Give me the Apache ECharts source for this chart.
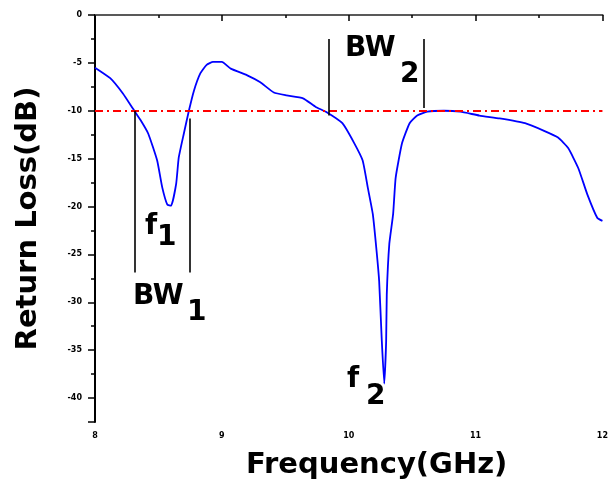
<!DOCTYPE html>
<html>
<head>
<meta charset="utf-8">
<script src="https://cdn.jsdelivr.net/npm/echarts@6/dist/echarts.min.js"></script>
<style>
  html, body { margin: 0; padding: 0; background: #fff; }
  #chart { width: 611px; height: 485px; }
</style>
</head>
<body>
<div id="chart"></div>
<script>
// measured curve: frequency (GHz) / return loss (dB)
const freq = [8.00, 8.12, 8.22, 8.30, 8.36, 8.42, 8.49, 8.53, 8.57, 8.60, 8.64, 8.66, 8.70, 8.74, 8.78,
  8.83, 8.88, 8.93, 9.00, 9.07, 9.20, 9.30, 9.41, 9.51, 9.64, 9.74, 9.82, 9.95, 10.04, 10.11, 10.15,
  10.19, 10.22, 10.24, 10.26, 10.28, 10.295, 10.30, 10.32, 10.35, 10.37, 10.42, 10.48, 10.54, 10.62,
  10.75, 10.88, 11.03, 11.19, 11.39, 11.54, 11.65, 11.73, 11.81, 11.88, 11.96, 12.00];
const returnLoss = [-5.5, -6.6, -8.2, -9.8, -11.0, -12.4, -15.2, -18.0, -19.8, -19.9, -17.6, -14.9, -12.4, -10.0, -7.9,
  -6.1, -5.2, -4.9, -4.9, -5.6, -6.3, -7.0, -8.1, -8.4, -8.7, -9.6, -10.1, -11.3, -13.3, -15.2, -18.0,
  -20.8, -24.7, -27.8, -33.8, -38.5, -34.1, -29.2, -23.9, -20.8, -17.0, -13.4, -11.3, -10.5, -10.1,
  -10.0, -10.1, -10.5, -10.8, -11.3, -12.1, -12.8, -13.9, -16.0, -18.7, -21.2, -21.5];

const refLevel = -10;          // -10 dB reference line
const bw1 = [8.31, 8.75];      // band 1 edges (GHz)
const bw2 = [9.84, 10.59];     // band 2 edges (GHz)
const xMin = 8, xMax = 12;
const yDepth = 42.5;           // axis runs 0 .. -42.5 dB

const FONT = "DejaVu Sans";

const chart = echarts.init(document.getElementById("chart"));

// the axis is drawn as |dB| on an inverted scale so ticks start at 0
const seriesData = freq.map((f, i) => [f, -returnLoss[i]]);

const vLine = (f, from, to) => [{ coord: [f, from] }, { coord: [f, to] }];

const subText = (txt, x, y) => ({
  type: "text",
  style: {
    text: txt, x: x, y: y,
    font: "bold 28px '" + FONT + "'",
    fill: "#000",
    verticalAlign: "middle",
  },
});

chart.setOption({
  animation: false,
  grid: { left: 95, right: 1, top: 15, bottom: 63 },
  xAxis: [
    {
      type: "value",
      min: xMin,
      max: xMax,
      interval: 1,
      name: "Frequency(GHz)",
      nameLocation: "middle",
      nameGap: 29,
      nameTextStyle: {
        fontFamily: FONT, fontWeight: "bold", fontSize: 29, color: "#000",
        padding: [0, 0, 0, 56],
      },
      axisLine: { lineStyle: { color: "#000", width: 2 } },
      axisTick: { length: 6, lineStyle: { color: "#000", width: 1.5 } },
      minorTick: { show: true, splitNumber: 2, length: 3, lineStyle: { color: "#000", width: 1.5 } },
      axisLabel: { fontFamily: FONT, fontWeight: "bold", fontSize: 8, color: "#000", margin: 10 },
      splitLine: { show: false },
    },
    {
      type: "value",
      position: "top",
      min: xMin,
      max: xMax,
      axisLine: { show: true, lineStyle: { color: "#777", width: 1.5 } },
      axisTick: { show: false },
      axisLabel: { show: false },
      splitLine: { show: false },
    },
  ],
  yAxis: {
    type: "value",
    inverse: true,
    min: 0,
    max: yDepth,
    interval: 5,
    name: "Return Loss(dB)",
    nameLocation: "middle",
    nameGap: 52,
    nameTextStyle: { fontFamily: FONT, fontWeight: "bold", fontSize: 29, color: "#000" },
    axisLine: { show: true, lineStyle: { color: "#000", width: 2 } },
    axisTick: { length: 7, lineStyle: { color: "#000", width: 1.5 } },
    minorTick: { show: true, splitNumber: 2, length: 4, lineStyle: { color: "#000", width: 1.5 } },
    axisLabel: {
      fontFamily: FONT, fontWeight: "bold", fontSize: 8, color: "#000", margin: 13,
      formatter: (v) => (v % 5 !== 0 ? "" : v === 0 ? "0" : "-" + v),
    },
    splitLine: { show: false },
  },
  series: [
    {
      type: "line",
      data: seriesData,
      showSymbol: false,
      smooth: 0.15,
      lineStyle: { color: "#0000ff", width: 1.8 },
      z: 3,
      markLine: {
        silent: true,
        symbol: "none",
        label: { show: false },
        data: [
          {
            yAxis: -refLevel,
            lineStyle: { color: "#ff0000", width: 1.8, type: [8, 4, 2, 4] },
          },
          vLine(bw1[0], -refLevel, 26.9),
          vLine(bw1[1], 10.8, 26.9),
          vLine(bw2[0], 2.5, 10.5),
          vLine(bw2[1], 2.5, 9.7),
        ],
        lineStyle: { color: "#000", width: 1.6, type: "solid" },
      },
    },
  ],
  graphic: [
    subText("f", 145, 227),
    subText("1", 157, 238),
    subText("BW", 133, 297),
    subText("1", 187, 313),
    subText("BW", 345, 49),
    subText("2", 400, 75),
    subText("f", 347, 380),
    subText("2", 366, 397),
  ],
});
</script>
</body>
</html>
